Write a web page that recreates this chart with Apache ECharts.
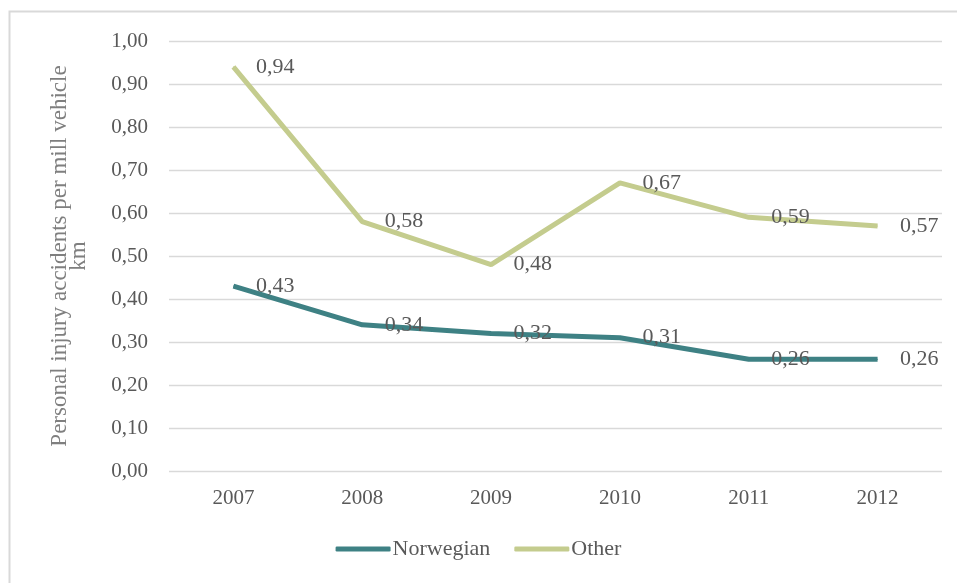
<!DOCTYPE html>
<html>
<head>
<meta charset="utf-8">
<script src="https://cdn.jsdelivr.net/npm/echarts@6/dist/echarts.min.js"></script>
<style>
  html, body { margin: 0; padding: 0; background: #fff; }
  #chart { width: 957px; height: 583px; }
</style>
</head>
<body>
<div id="chart"></div>
<script>
const years = ['2007', '2008', '2009', '2010', '2011', '2012'];
const norwegian = [0.43, 0.34, 0.32, 0.31, 0.26, 0.26];
const other = [0.94, 0.58, 0.48, 0.67, 0.59, 0.57];

const fontFam = '"Liberation Serif", serif';
const comma = v => v.toFixed(2).replace('.', ',');

let chart = echarts.init(document.getElementById('chart'));
let option = {
  animation: false,
  textStyle: { fontFamily: fontFam },
  graphic: [{
    type: 'rect',
    shape: { x: 9.5, y: 11.5, width: 1200, height: 1200 },
    style: { fill: 'none', stroke: '#d9d9d9', lineWidth: 2 }
  }],
  grid: { left: 169, right: 15, top: 41, bottom: 112 },
  legend: {
    bottom: 18,
    left: 'center',
    itemWidth: 55,
    itemHeight: 5,
    itemGap: 24,
    icon: 'roundRect',
    textStyle: { fontFamily: fontFam, fontSize: 22, color: '#595959', padding: [0, 0, 0, -3] },
    data: ['Norwegian', 'Other']
  },
  xAxis: {
    type: 'category',
    data: years,
    axisLine: { show: false },
    axisTick: { show: false },
    axisLabel: { color: '#595959', fontSize: 21, fontFamily: fontFam, margin: 17 }
  },
  yAxis: {
    type: 'value',
    min: 0,
    max: 1,
    interval: 0.1,
    name: 'Personal injury accidents per mill vehicle\nkm',
    nameLocation: 'middle',
    nameGap: 81,
    nameTextStyle: { color: '#7f7f7f', fontSize: 23, fontFamily: fontFam, lineHeight: 19 },
    axisLine: { show: false },
    axisTick: { show: false },
    splitLine: { lineStyle: { color: '#d9d9d9', width: 1.3 } },
    axisLabel: { color: '#595959', fontSize: 21, fontFamily: fontFam, margin: 21, formatter: comma }
  },
  series: [
    {
      name: 'Norwegian',
      type: 'line',
      data: norwegian,
      symbol: 'circle',
      symbolSize: 1,
      color: '#3e8184',
      lineStyle: { width: 5, color: '#3e8184' },
      label: {
        show: true,
        position: 'right',
        distance: 22,
        color: '#595959',
        fontSize: 22,
        fontFamily: fontFam,
        formatter: p => comma(p.value)
      }
    },
    {
      name: 'Other',
      type: 'line',
      data: other,
      symbol: 'circle',
      symbolSize: 1,
      color: '#c4cc8e',
      lineStyle: { width: 5, color: '#c4cc8e' },
      label: {
        show: true,
        position: 'right',
        distance: 22,
        color: '#595959',
        fontSize: 22,
        fontFamily: fontFam,
        formatter: p => comma(p.value)
      }
    }
  ]
};
chart.setOption(option);
</script>
</body>
</html>
